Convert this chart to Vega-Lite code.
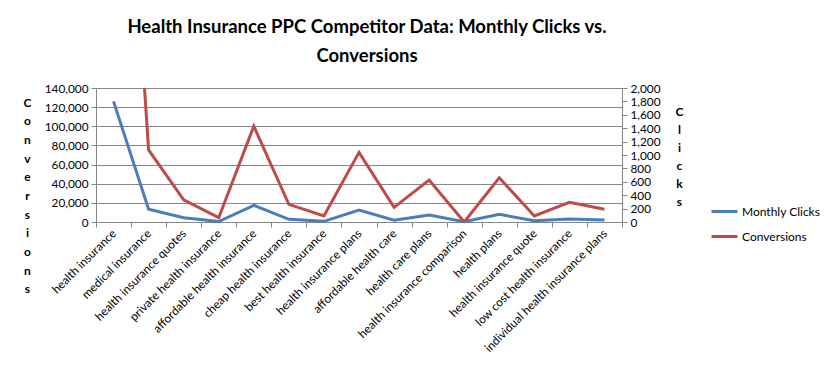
{
  "$schema": "https://vega.github.io/schema/vega-lite/v6.json",
  "width": 526,
  "height": 134,
  "autosize": {"type": "none"},
  "padding": {"left": 96, "top": 88, "right": 212, "bottom": 157},
  "background": "white",
  "title": {
    "text": ["Health Insurance PPC Competitor Data: Monthly Clicks vs.", "Conversions"],
    "font": "Lato", "fontSize": 18.5, "fontWeight": "bold", "color": "black",
    "lineHeight": 29, "offset": 15, "dx": 8, "dy": -3, "anchor": "middle", "limit": 0
  },
  "config": {
    "view": {"stroke": null},
    "font": "Lato"
  },
  "data": {
    "values": [
      {"keyword": "health insurance", "clicks": 126000, "conversions": 9000},
      {"keyword": "medical insurance", "clicks": 13300, "conversions": 1075},
      {"keyword": "health insurance quotes", "clicks": 4500, "conversions": 330},
      {"keyword": "private health insurance", "clicks": 500, "conversions": 64},
      {"keyword": "affordable health insurance", "clicks": 17400, "conversions": 1430},
      {"keyword": "cheap health insurance", "clicks": 2800, "conversions": 264},
      {"keyword": "best health  insurance", "clicks": 700, "conversions": 90},
      {"keyword": "health insurance plans", "clicks": 12500, "conversions": 1040},
      {"keyword": "affordable health  care", "clicks": 1800, "conversions": 219},
      {"keyword": "health care plans", "clicks": 7300, "conversions": 627},
      {"keyword": "health insurance comparison", "clicks": 300, "conversions": 0},
      {"keyword": "health plans", "clicks": 8000, "conversions": 661},
      {"keyword": "health insurance quote", "clicks": 1400, "conversions": 90},
      {"keyword": "low cost health  insurance", "clicks": 3100, "conversions": 294},
      {"keyword": "individual health insurance plans", "clicks": 2100, "conversions": 190}
    ]
  },
  "encoding": {
    "x": {
      "field": "keyword", "type": "nominal", "sort": null,
      "scale": {"type": "band", "paddingInner": 0, "paddingOuter": 0},
      "bandPosition": 0.5,
      "axis": {
        "title": null, "tickBand": "extent", "grid": false,
        "labelAngle": -45, "labelAlign": "right", "labelBaseline": "middle",
        "labelFontSize": 11.8, "labelColor": "black", "labelLimit": 400, "labelPadding": 4,
        "domainColor": "#868686", "tickColor": "#868686", "tickSize": 5
      }
    }
  },
  "layer": [
    {
      "mark": {"type": "line", "strokeWidth": 3},
      "encoding": {
        "y": {
          "field": "clicks", "type": "quantitative",
          "scale": {"domain": [0, 140000]},
          "axis": {
            "values": [0, 20000, 40000, 60000, 80000, 100000, 120000, 140000],
            "format": ",.0f", "grid": true, "gridColor": "#868686",
            "domainColor": "#868686", "tickColor": "#868686", "tickSize": 5,
            "labelFontSize": 11.8, "labelColor": "black", "labelPadding": 3,
            "title": ["C","o","n","v","e","r","s","i","o","n","s"],
            "titleAngle": 0, "titleFontSize": 12, "titleFontWeight": "bold", "titleColor": "black",
            "titleLineHeight": 18.7, "titleAlign": "center", "titleBaseline": "top",
            "titleX": -69, "titleY": 9
          }
        },
        "color": {
          "datum": "Monthly Clicks",
          "scale": {"domain": ["Monthly Clicks", "Conversions"], "range": ["#4A7EBB", "#BE4B48"]},
          "legend": {
            "title": null, "orient": "none", "legendX": 614, "legendY": 109,
            "symbolType": "stroke", "symbolSize": 676, "symbolStrokeWidth": 3,
            "labelFontSize": 12, "labelColor": "black", "labelOffset": 3,
            "rowPadding": 4, "padding": 0
          }
        }
      }
    },
    {
      "mark": {"type": "line", "strokeWidth": 3, "clip": true},
      "encoding": {
        "y": {
          "field": "conversions", "type": "quantitative",
          "scale": {"domain": [0, 2000]},
          "axis": {
            "orient": "right",
            "values": [0, 200, 400, 600, 800, 1000, 1200, 1400, 1600, 1800, 2000],
            "format": ",.0f", "grid": false,
            "domainColor": "#868686", "tickColor": "#868686", "tickSize": 5,
            "labelFontSize": 11.8, "labelColor": "black", "labelPadding": 3,
            "title": ["C","l","i","c","k","s"],
            "titleAngle": 0, "titleFontSize": 12, "titleFontWeight": "bold", "titleColor": "black",
            "titleLineHeight": 18, "titleAlign": "center", "titleBaseline": "top",
            "titleX": 57, "titleY": 18
          }
        },
        "color": {"datum": "Conversions"}
      }
    }
  ],
  "resolve": {"scale": {"y": "independent"}}
}
